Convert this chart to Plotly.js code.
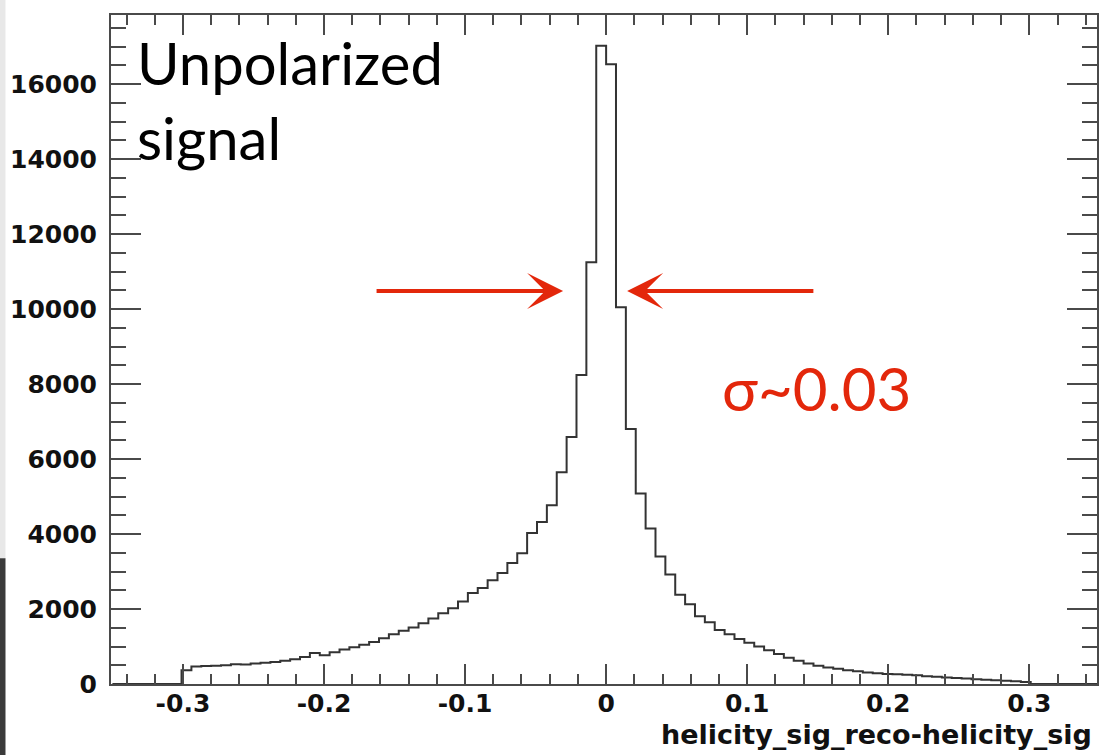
<!DOCTYPE html>
<html>
<head>
<meta charset="utf-8">
<script src="https://cdn.plot.ly/plotly-3.0.1.min.js"></script>
<style>
  html, body { margin: 0; padding: 0; background: #ffffff; }
  #chart { width: 1100px; height: 755px; }
</style>
</head>
<body>
<div id="chart"></div>
<script>
// Histogram definition (ROOT-style TH1): 100 bins from -0.35 to 0.35
const histLow = -0.35;
const binWidth = 0.007;
const counts = [
  0, 0, 0, 0, 0, 0, 0,
  370, 470, 480, 490, 500, 530, 520, 550, 570, 590,
  620, 660, 720, 830, 770, 850, 920, 980, 1050, 1120,
  1220, 1330, 1420, 1510, 1620, 1750, 1890, 2020, 2200, 2430,
  2560, 2770, 2960, 3230, 3490, 4030, 4320, 4770, 5650, 6590,
  8240, 11250, 17020, 16530, 10050, 6800, 5080, 4150, 3400, 2920,
  2380, 2130, 1810, 1650, 1440, 1330, 1200, 1100, 1000, 900,
  800, 700, 620, 550, 490, 440, 410, 370, 340, 310,
  290, 270, 260, 250, 235, 210, 195, 175, 160, 145,
  130, 115, 100, 90, 75, 55,
  0, 0, 0, 0, 0, 0, 0
];
const xTickVals = [-0.3, -0.2, -0.1, 0, 0.1, 0.2, 0.3];
const xTickText = ['-0.3', '-0.2', '-0.1', '0', '0.1', '0.2', '0.3'];
const yTickVals = [0, 2000, 4000, 6000, 8000, 10000, 12000, 14000, 16000];
const yTickText = ['0', '2000', '4000', '6000', '8000', '10000', '12000', '14000', '16000'];
const xTitle = 'helicity_sig_reco-helicity_sig';
const labelMain = 'Unpolarized<br>signal';
const labelSigma = 'σ~0.03';

// step outline: each point is a bin's low edge with its content
const stepX = [];
const stepY = [];
for (let k = 0; k < counts.length; k++) {
  stepX.push(histLow + k * binWidth);
  stepY.push(counts[k]);
}
stepX.push(histLow + counts.length * binWidth);
stepY.push(0);

const axisColor = '#4a4a4a';
const tickFont = { family: 'DejaVu Sans', size: 25, color: '#111111', weight: 'bold' };
const red = '#e3270b';

const trace = {
  type: 'scatter',
  mode: 'lines',
  x: stepX,
  y: stepY,
  line: { shape: 'hv', color: '#333333', width: 2 },
  hoverinfo: 'skip',
  showlegend: false
};

const layout = {
  width: 1100,
  height: 755,
  margin: { l: 111, r: 3, t: 15, b: 71, pad: 0 },
  paper_bgcolor: '#ffffff',
  plot_bgcolor: '#ffffff',
  showlegend: false,
  xaxis: {
    range: [-0.351, 0.348],
    tickvals: xTickVals,
    ticktext: xTickText,
    ticks: 'inside',
    ticklen: 20,
    tickwidth: 2,
    tickcolor: axisColor,
    minor: { dtick: 0.02, tick0: 0, ticks: 'inside', ticklen: 10, tickwidth: 2, tickcolor: axisColor, showgrid: false },
    showline: true,
    linecolor: axisColor,
    linewidth: 2,
    mirror: 'allticks',
    showgrid: false,
    zeroline: false,
    tickfont: tickFont,
    ticklabelstandoff: -4
  },
  yaxis: {
    range: [0, 17840],
    tickvals: yTickVals,
    ticktext: yTickText,
    ticks: 'inside',
    ticklen: 30,
    tickwidth: 2,
    tickcolor: axisColor,
    minor: { dtick: 500, tick0: 0, ticks: 'inside', ticklen: 15, tickwidth: 2, tickcolor: axisColor, showgrid: false },
    showline: true,
    linecolor: axisColor,
    linewidth: 2,
    mirror: 'allticks',
    showgrid: false,
    zeroline: false,
    tickfont: tickFont,
    ticklabelstandoff: 7
  },
  annotations: [
    {
      xref: 'paper', yref: 'paper',
      x: 0.997, y: -0.076,
      xanchor: 'right', yanchor: 'middle',
      text: xTitle,
      showarrow: false,
      font: { family: 'DejaVu Sans', size: 27, color: '#111111', weight: 'bold' }
    },
    {
      xref: 'paper', yref: 'paper',
      x: 0.024, y: 0.983,
      xanchor: 'left', yanchor: 'top',
      align: 'left',
      text: labelMain,
      showarrow: false,
      font: { family: 'Lato', size: 58, color: '#000000' }
    },
    {
      xref: 'x', yref: 'y',
      x: 0.081, y: 7900,
      xanchor: 'left', yanchor: 'middle',
      text: labelSigma,
      showarrow: false,
      font: { family: 'Lato', size: 60, color: red }
    },
    {
      xref: 'x', yref: 'y', axref: 'x', ayref: 'y',
      x: -0.0305, y: 10480, ax: -0.1638, ay: 10480,
      text: '', showarrow: true,
      arrowhead: 3, arrowsize: 1.5, arrowwidth: 4, arrowcolor: red, standoff: 0
    },
    {
      xref: 'x', yref: 'y', axref: 'x', ayref: 'y',
      x: 0.0149, y: 10480, ax: 0.148, ay: 10480,
      text: '', showarrow: true,
      arrowhead: 3, arrowsize: 1.5, arrowwidth: 4, arrowcolor: red, standoff: 0
    }
  ],
  shapes: [
    { type: 'rect', xref: 'paper', yref: 'paper', x0: -0.1126, x1: -0.107, y0: 0.188, y1: 1.25,
      fillcolor: '#e8e8e8', line: { width: 0 }, layer: 'below' },
    { type: 'rect', xref: 'paper', yref: 'paper', x0: -0.1126, x1: -0.107, y0: -0.11, y1: 0.188,
      fillcolor: '#3a3a3a', line: { width: 0 }, layer: 'below' }
  ]
};

Plotly.newPlot('chart', [trace], layout, { displayModeBar: false, staticPlot: true });
</script>
</body>
</html>
